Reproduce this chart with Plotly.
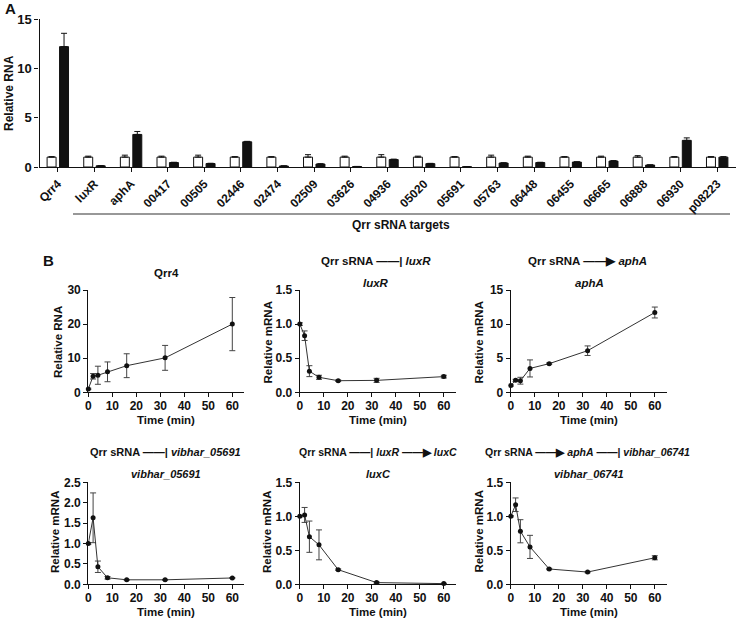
import plotly.graph_objects as go

# ---------------- Data ----------------
categories = ["Qrr4", "luxR", "aphA", "00417", "00505", "02446", "02474", "02509", "03626",
              "04936", "05020", "05691", "05763", "06448", "06455", "06665", "06888", "06930", "p08223"]
ctrl_vals = [1.0] * 19
ctrl_err = [0.05, 0.1, 0.2, 0.1, 0.2, 0.05, 0.05, 0.25, 0.1, 0.25, 0.1, 0.05, 0.2, 0.1, 0.05, 0.1, 0.15, 0.05, 0.05]
qrr_vals = [12.2, 0.12, 3.3, 0.45, 0.35, 2.55, 0.1, 0.3, 0.05, 0.75, 0.34, 0.03, 0.4, 0.45, 0.5, 0.6, 0.2, 2.7, 1.0]
qrr_err = [1.35, 0.02, 0.3, 0.03, 0.03, 0.05, 0.02, 0.03, 0.01, 0.05, 0.03, 0.01, 0.03, 0.03, 0.03, 0.05, 0.02, 0.25, 0.05]

time_min = [0, 2, 4, 8, 16, 32, 60]
qrr4_vals = [1.0, 4.7, 5.0, 6.0, 7.8, 10.1, 20.0]
qrr4_err = [0.2, 0.8, 2.65, 2.9, 3.5, 3.65, 7.8]
luxR_vals = [1.0, 0.83, 0.31, 0.22, 0.17, 0.175, 0.23]
luxR_err = [0.02, 0.07, 0.08, 0.03, 0.01, 0.03, 0.02]
aphA_vals = [1.0, 1.75, 1.7, 3.5, 4.2, 6.1, 11.7]
aphA_err = [0.1, 0.15, 0.5, 1.25, 0.1, 0.7, 0.8]
v05691_vals = [1.0, 1.63, 0.43, 0.16, 0.11, 0.11, 0.155]
v05691_err = [0.02, 0.61, 0.14, 0.03, 0.01, 0.01, 0.01]
luxC_vals = [1.0, 1.02, 0.7, 0.58, 0.215, 0.025, 0.01]
luxC_err = [0.01, 0.11, 0.23, 0.22, 0.01, 0.01, 0.005]
v06741_vals = [1.0, 1.17, 0.78, 0.55, 0.225, 0.18, 0.39]
v06741_err = [0.01, 0.1, 0.17, 0.17, 0.01, 0.01, 0.03]

W, H = 736, 618
FONT = "Liberation Sans"
INK = "#111111"


def px(x):
    return x / W


def py(y):
    return 1 - y / H


fig = go.Figure()

# ---------------- Panel A bars ----------------
fig.add_trace(go.Bar(
    x=categories, y=ctrl_vals, offsetgroup="c", xaxis="x", yaxis="y",
    marker=dict(color="white", line=dict(color=INK, width=1)),
    error_y=dict(type="data", array=ctrl_err, arrayminus=[0] * 19, symmetric=False,
                 color=INK, thickness=1, width=3),
    showlegend=False))
fig.add_trace(go.Bar(
    x=categories, y=qrr_vals, offsetgroup="q", xaxis="x", yaxis="y",
    marker=dict(color=INK, line=dict(color=INK, width=1)),
    error_y=dict(type="data", array=qrr_err, arrayminus=[0] * 19, symmetric=False,
                 color=INK, thickness=1, width=3),
    showlegend=False))

# ---------------- Panel B time courses ----------------
series = [
    (qrr4_vals, qrr4_err), (luxR_vals, luxR_err), (aphA_vals, aphA_err),
    (v05691_vals, v05691_err), (luxC_vals, luxC_err), (v06741_vals, v06741_err),
]
for i, (vals, err) in enumerate(series):
    n = i + 2
    fig.add_trace(go.Scatter(
        x=time_min, y=vals, mode="lines+markers", xaxis=f"x{n}", yaxis=f"y{n}",
        line=dict(color="#333333", width=1),
        marker=dict(size=5, color=INK),
        error_y=dict(type="data", array=err, color="#444444", thickness=1, width=3),
        cliponaxis=False, showlegend=False))

axis_common = dict(showline=True, linecolor=INK, linewidth=1.2, ticks="outside", ticklen=4,
                   tickwidth=1.2, tickcolor=INK, showgrid=False, zeroline=False,
                   automargin=False, fixedrange=True)

layout = dict(
    width=W, height=H, margin=dict(l=0, r=0, t=0, b=0),
    paper_bgcolor="white", plot_bgcolor="white",
    font=dict(family=FONT, color=INK, size=12, weight="bold"),
    barmode="group", bargap=0.32, bargroupgap=0.28,
    showlegend=False,
)

layout["xaxis"] = dict(axis_common, domain=[px(39.5), px(735.5)], anchor="y",
                       range=[-0.5, 18.5], tickangle=-45,
                       tickfont=dict(family=FONT, size=12, color=INK, weight="bold"))
layout["yaxis"] = dict(axis_common, domain=[py(167), py(19)], anchor="x",
                       range=[0, 15], tickvals=[0, 5, 10, 15],
                       tickfont=dict(family=FONT, size=13, color=INK, weight="bold"))

col_x = [88.3, 299.8, 510.8]
row_y = [(290, 392.3), (482.3, 584.3)]
yranges = [([0, 30], 10, None), ([0, 1.5], 0.5, ".1f"), ([0, 15], 5, None),
           ([0, 2.5], 0.5, ".1f"), ([0, 1.5], 0.5, ".1f"), ([0, 1.5], 0.5, ".1f")]
for i in range(6):
    n = i + 2
    r, c = divmod(i, 3)
    x0 = col_x[c]
    top, bot = row_y[r]
    layout[f"xaxis{n}"] = dict(axis_common, domain=[px(x0), px(x0 + 156)], anchor=f"y{n}",
                               range=[0, 65], tickvals=[0, 10, 20, 30, 40, 50, 60],
                               ticklabelstandoff=-2,
                               tickfont=dict(family=FONT, size=12, color=INK, weight="bold"))
    yr, dt, fmt = yranges[i]
    ydict = dict(axis_common, domain=[py(bot), py(top)], anchor=f"x{n}",
                 range=yr, dtick=dt, tick0=0,
                 tickfont=dict(family=FONT, size=12, color=INK, weight="bold"))
    if fmt:
        ydict["tickformat"] = fmt
    layout[f"yaxis{n}"] = ydict

fig.update_layout(**layout)


def ann(text, x, y, size=12, angle=0, xanchor="center"):
    fig.add_annotation(text=text, x=px(x), y=py(y), xref="paper", yref="paper",
                       showarrow=False, xanchor=xanchor, yanchor="middle", textangle=angle,
                       font=dict(family=FONT, size=size, color=INK, weight="bold"))


# panel labels
ann("A", 3, 9, size=15, xanchor="left")
ann("B", 41, 260, size=15, xanchor="left")

# panel A titles
ann("Relative RNA", 9, 93, size=12, angle=-90)
ann("Qrr sRNA targets", 400.5, 225, size=12)
fig.add_shape(type="line", xref="paper", yref="paper", x0=px(73), x1=px(730), y0=py(214), y1=py(214),
              line=dict(color="#333333", width=1.2))

# panel B titles
INH = "\u2014\u2014|"
ACT = "\u2014\u2014\u25B6"
ann("Qrr4", 166.7, 273, size=11.5)
ann("<i>luxR</i>", 376, 283, size=11.5)
ann("<i>aphA</i>", 589, 283, size=11.5)
ann("<i>vibhar_05691</i>", 166, 473.5, size=11)
ann("<i>luxC</i>", 378.3, 474, size=11)
ann("<i>vibhar_06741</i>", 589, 474, size=11)

ann(f"Qrr sRNA {INH} <i>luxR</i>", 376, 261, size=11.5)
ann(f"Qrr sRNA {ACT} <i>aphA</i>", 587, 261, size=11.5)
ann(f"Qrr sRNA {INH} <i>vibhar_05691</i>", 165.7, 451.5, size=11)
ann(f"Qrr sRNA {INH} <i>luxR</i> {ACT} <i>luxC</i>", 378, 451.5, size=10.5)
ann(f"Qrr sRNA {ACT} <i>aphA</i> {INH} <i>vibhar_06741</i>", 587, 451.5, size=10.5)

# axis titles
ann("Relative RNA", 58, 342, size=11.5, angle=-90)
ann("Relative mRNA", 267.5, 343, size=11.5, angle=-90)
ann("Relative mRNA", 478.5, 343, size=11.5, angle=-90)
ann("Relative mRNA", 55, 532, size=11.5, angle=-90)
ann("Relative mRNA", 267, 532, size=11.5, angle=-90)
ann("Relative mRNA", 478.5, 532, size=11.5, angle=-90)
for c, xc in enumerate([166.3, 377.8, 588.8]):
    ann("Time (min)", xc, 419.5, size=11.5)
    ann("Time (min)", xc, 611.5, size=11.5)

fig.write_html("out.html", config={"displayModeBar": False},
               post_script="document.body.style.margin='0px';document.body.style.overflow='hidden';")
